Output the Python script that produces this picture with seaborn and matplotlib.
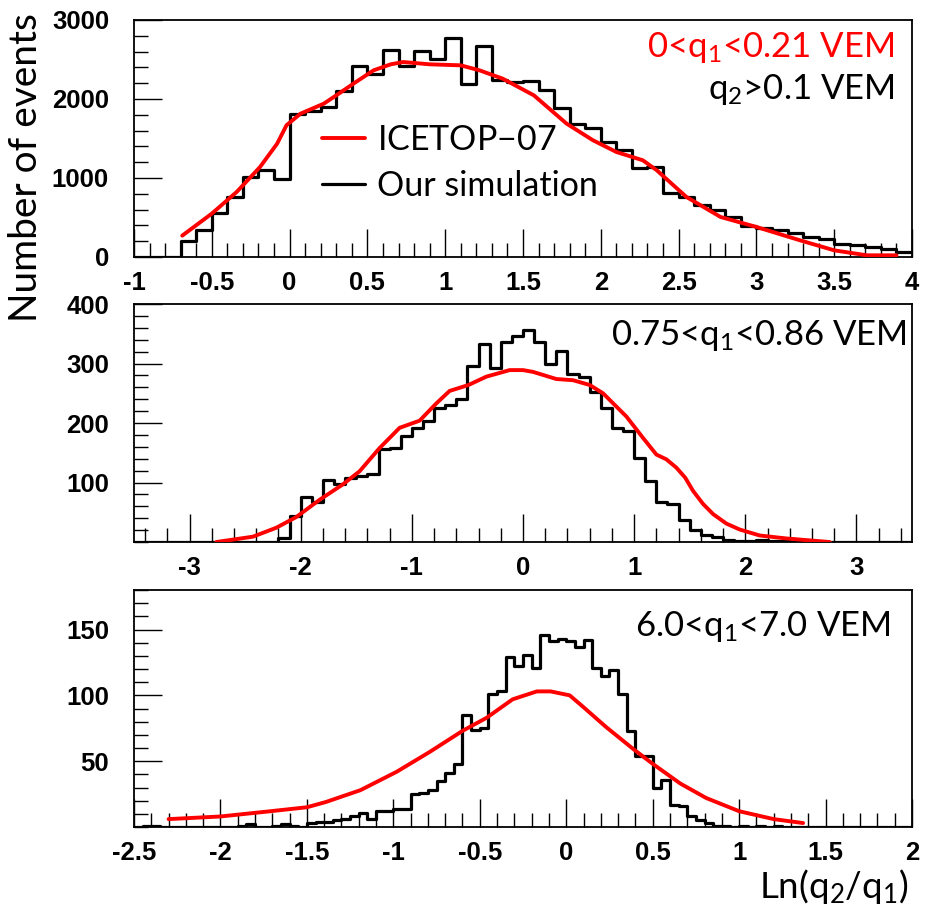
import numpy as np
import pandas as pd
import seaborn as sns
import matplotlib.pyplot as plt
from matplotlib.ticker import MultipleLocator, FixedLocator

sns.set_style("white")
plt.rcParams["font.family"] = ["Liberation Sans", "DejaVu Sans"]
plt.rcParams["text.color"] = "black"
plt.rcParams["xtick.color"] = "black"
plt.rcParams["ytick.color"] = "black"
plt.rcParams["mathtext.fontset"] = "custom"
plt.rcParams["mathtext.rm"] = "Lato"
plt.rcParams["mathtext.default"] = "rm"

# ---- panel 1: 0<q1<0.21 VEM, bins of 0.1 from -1 to 4
p1_edges = np.round(np.arange(-1.0, 4.0001, 0.1), 2)
p1_sim = [0, 0, 0, 203, 338, 561, 760, 1013, 1097, 983,
          1806, 1848, 1899, 2097, 2418, 2312, 2616, 2418, 2608, 2511,
          2772, 2186, 2671, 2245, 2215, 2224, 2118, 1886, 1688, 1633,
          1456, 1350, 1127, 1139, 810, 760, 654, 591, 506, 397,
          367, 338, 308, 253, 232, 160, 148, 127, 105, 63]
p1_ice_x = [-0.69, -0.5, -0.34, -0.19, -0.08, -0.02, 0.07, 0.22, 0.30, 0.41,
            0.54, 0.65, 0.73, 0.90, 1.10, 1.22, 1.37, 1.57, 1.78, 1.95,
            2.10, 2.27, 2.36, 2.55, 2.77, 3.00, 3.28, 3.50, 3.71, 3.90]
p1_ice_y = [270, 549, 823, 1139, 1435, 1667, 1814, 1941, 2046, 2194,
            2363, 2439, 2468, 2439, 2426, 2363, 2257, 2046, 1688, 1477,
            1329, 1224, 1097, 760, 506, 380, 211, 84, 21, 21]

# ---- panel 2: 0.75<q1<0.86 VEM, bins of 0.1 from -3.5 to 3.5
p2_edges = np.round(np.arange(-3.5, 3.5001, 0.1), 2)
p2_sim = [0] * 13 + [6, 43, 75, 67, 104, 98, 108, 111, 114, 156,
                     158, 179, 191, 203, 225, 231, 241, 296, 333, 293,
                     337, 347, 357, 337, 300, 321, 283, 278, 253, 225,
                     192, 187, 142, 102, 68, 64, 37, 21, 12, 8,
                     3, 2, 2, 3, 2, 1] + [0] * 11
p2_ice_x = [-2.76, -2.43, -2.22, -2.04, -1.83, -1.62, -1.47, -1.29, -1.11, -0.93,
            -0.78, -0.66, -0.49, -0.33, -0.12, 0.00, 0.09, 0.30, 0.45, 0.60,
            0.72, 0.93, 1.08, 1.20, 1.29, 1.38, 1.46, 1.53, 1.62, 1.71,
            1.83, 1.95, 2.13, 2.37, 2.76]
p2_ice_y = [0, 9, 24, 42, 71, 97, 119, 158, 192, 204,
            233, 254, 264, 278, 289, 289, 286, 274, 272, 264,
            250, 211, 175, 147, 139, 125, 108, 86, 64, 47,
            31, 21, 11, 6, 0]

# ---- panel 3: 6.0<q1<7.0 VEM, bins of 0.05 from -2.5 to 2
p3_edges = np.round(np.arange(-2.5, 2.0001, 0.05), 3)
p3_sim = [0, 1, 1, 0, 0, 0, 0, 0, 0, 0,
          0, 0, 1, 2, 0, 0, 1, 2, 1, 0,
          3, 4, 4, 5, 6, 8, 11, 6, 12, 12,
          14, 14, 25, 26, 28, 35, 41, 48, 85, 74,
          75, 101, 103, 129, 122, 131, 121, 146, 141, 143,
          141, 137, 142, 121, 115, 119, 101, 73, 54, 54,
          30, 36, 17, 16, 8, 5, 3, 1, 1, 0,
          1, 0, 1, 0, 1] + [0] * 15
p3_ice_x = [-2.30, -2.00, -1.71, -1.50, -1.39, -1.19, -0.98, -0.79, -0.60, -0.46,
            -0.31, -0.17, -0.09, 0.02, 0.10, 0.23, 0.39, 0.50, 0.66, 0.81,
            1.00, 1.20, 1.37]
p3_ice_y = [6, 8, 12, 15, 19, 28, 42, 57, 73, 83,
            97, 103, 103, 100, 91, 76, 59, 48, 33, 22,
            12, 6, 3]

panels = [
    dict(edges=p1_edges, sim=p1_sim, ix=p1_ice_x, iy=p1_ice_y, xlim=(-1, 4), ylim=(0, 3000),
         xmaj=0.5, xmin=0.1, ymaj=[0, 1000, 2000, 3000], ymin=200,
         rect=[0.1447, 0.7173, 0.8402, 0.2607]),
    dict(edges=p2_edges, sim=p2_sim, ix=p2_ice_x, iy=p2_ice_y, xlim=(-3.5, 3.5), ylim=(0, 400),
         xmaj=1, xmin=0.2, ymaj=[100, 200, 300, 400], ymin=20,
         rect=[0.1447, 0.4037, 0.8402, 0.2618]),
    dict(edges=p3_edges, sim=p3_sim, ix=p3_ice_x, iy=p3_ice_y, xlim=(-2.5, 2), ylim=(0, 180),
         xmaj=0.5, xmin=0.1, ymaj=[50, 100, 150], ymin=10,
         rect=[0.1447, 0.0902, 0.8402, 0.2607]),
]

fig = plt.figure(figsize=(9.26, 9.09), dpi=100)
axes = []
for p in panels:
    ax = fig.add_axes(p["rect"])
    edges = np.asarray(p["edges"], dtype=float)
    hist_df = pd.DataFrame({"center": (edges[:-1] + edges[1:]) / 2,
                            "count": np.asarray(p["sim"], dtype=float)})
    sns.histplot(data=hist_df, x="center", weights="count", bins=list(edges),
                 element="step", fill=False, color="black", linewidth=2.3, ax=ax,
                 label="Our simulation", zorder=2)
    ice_df = pd.DataFrame({"x": p["ix"], "y": p["iy"]})
    sns.lineplot(data=ice_df, x="x", y="y", sort=False, color="red", linewidth=2.8,
                 ax=ax, label="ICETOP$-$07", zorder=3)
    ax.set_xlim(*p["xlim"])
    ax.set_ylim(*p["ylim"])
    ax.xaxis.set_major_locator(MultipleLocator(p["xmaj"]))
    ax.xaxis.set_minor_locator(MultipleLocator(p["xmin"]))
    ax.yaxis.set_major_locator(FixedLocator(p["ymaj"]))
    ax.yaxis.set_minor_locator(MultipleLocator(p["ymin"]))
    ax.xaxis.set_major_formatter(plt.FuncFormatter(lambda v, _: f"{v:g}"))
    ax.tick_params(which="both", bottom=True, left=True, top=False, right=False,
                   direction="in", width=1, color="black")
    ax.tick_params(which="major", length=20)
    ax.tick_params(which="minor", length=10)
    ax.tick_params(axis="x", pad=10, labelsize=18.5)
    ax.tick_params(axis="y", pad=18, labelsize=18.5)
    for lab in ax.get_xticklabels() + ax.get_yticklabels():
        lab.set_fontweight("bold")
    for s in ax.spines.values():
        s.set_linewidth(1.3)
        s.set_color("black")
    ax.set_xlabel("")
    ax.set_ylabel("")
    if ax.get_legend():
        ax.get_legend().remove()
    axes.append(ax)

lbl = dict(family=["Lato", "DejaVu Sans"], fontweight="normal", fontsize=25)

ax1 = axes[0]
h, l = ax1.get_legend_handles_labels()
order = [l.index("ICETOP$-$07"), l.index("Our simulation")]
ax1.legend([h[i] for i in order], [l[i] for i in order], loc="center left",
           bbox_to_anchor=(0.2416, 0.398), frameon=False, borderpad=0, borderaxespad=0,
           handlelength=1.26, handletextpad=0.36, labelspacing=0.42,
           prop=dict(family=["Lato", "DejaVu Sans"], weight="normal", size=24.5))

ax1.text(0.978, 0.882, "0<q$_1$<0.21 VEM", color="red", ha="right", va="center",
         transform=ax1.transAxes, **lbl)
ax1.text(0.978, 0.705, "q$_2$>0.1 VEM", color="black", ha="right", va="center",
         transform=ax1.transAxes, **lbl)
axes[1].text(0.9936, 0.866, "0.75<q$_1$<0.86 VEM", ha="right", va="center",
             transform=axes[1].transAxes, **lbl)
axes[2].text(0.972, 0.848, "6.0<q$_1$<7.0 VEM", ha="right", va="center",
             transform=axes[2].transAxes, **lbl)

fig.text(0.028, 1 - 168 / 909, "Number of events", rotation=90, ha="center", va="center",
         family=["Lato", "DejaVu Sans"], fontsize=28)
fig.text(908 / 926, 1 - 886 / 909, "Ln(q$_2$/q$_1$)", ha="right", va="center",
         family=["Lato", "DejaVu Sans"], fontsize=26.5)

fig.savefig("out.png", dpi=100, facecolor="white")
